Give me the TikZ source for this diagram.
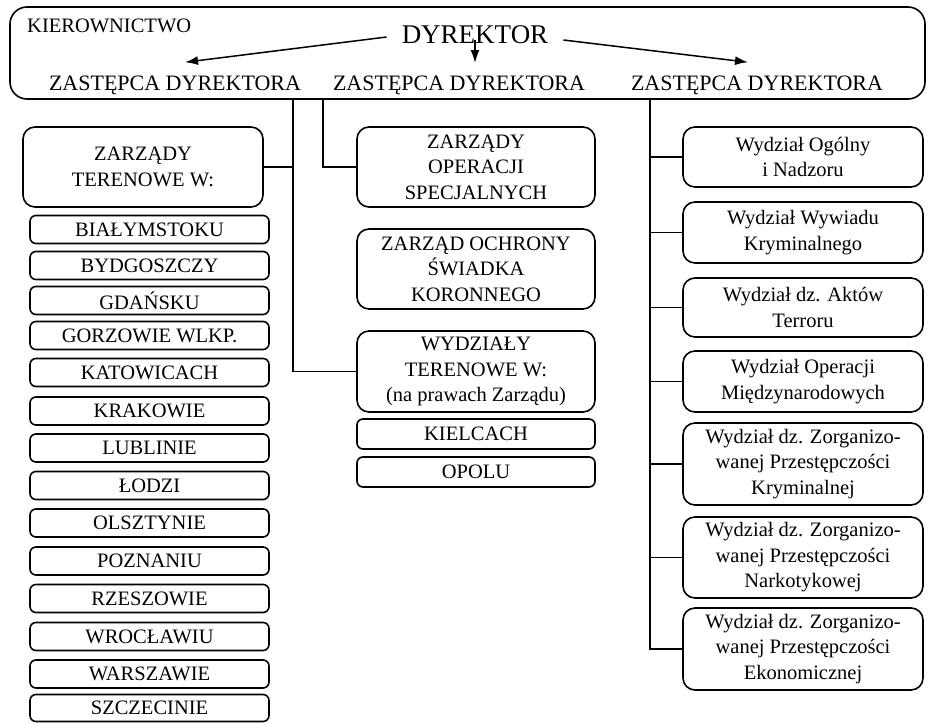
\documentclass[tikz,border=0pt]{standalone}
\usepackage{fontspec}
\setmainfont{Liberation Serif}
\usetikzlibrary{arrows.meta}

\begin{document}
\begin{tikzpicture}[x=1pt,y=-1pt,
  every node/.style={font=\fontsize{20.5}{25.5}\selectfont, align=center, inner sep=0pt},
  box/.style={draw, line width=1.6pt, rounded corners=12pt, minimum width=240pt},
  city/.style={draw, line width=1.6pt, rounded corners=6pt, minimum width=239pt, minimum height=28pt},
  conn/.style={line width=1.4pt},
  arr/.style={line width=1.5pt, -{Latex[length=13pt,width=9pt]}}]
\useasboundingbox (0,0) rectangle (928,723);
\node[draw, line width=1.6pt, rounded corners=17pt, minimum width=915pt, minimum height=92pt] (kier) at (467.5,53) {};
\node[anchor=base west] (kiert) at (27,32) {KIEROWNICTWO};
\node[font=\fontsize{27}{30}\selectfont] (dyr) at (475,35) {DYREKTOR};
\node[font=\fontsize{22}{26}\selectfont, anchor=base] (z1) at (175,90) {ZASTĘPCA DYREKTORA};
\node[font=\fontsize{22}{26}\selectfont, anchor=base] (z2) at (459,90) {ZASTĘPCA DYREKTORA};
\node[font=\fontsize{22}{26}\selectfont, anchor=base] (z3) at (757,90) {ZASTĘPCA DYREKTORA};
\draw[arr] ([xshift=-15pt,yshift=-2pt]dyr.west) -- ([xshift=10pt,yshift=13pt]z1.north);
\draw[arr] ([yshift=-5pt]dyr.center) -- ++(0,23);
\draw[arr] ([xshift=15pt,yshift=-5pt]dyr.east) -- ([xshift=-9pt,yshift=13pt]z3.north);

\node[box, minimum height=80pt] (ztw) at (143,167) {ZARZĄDY\\TERENOWE W:};
\node[city] (bia) at (149.5,229.5) {BIAŁYMSTOKU};
\node[city] (byd) at (149.5,265.5) {BYDGOSZCZY};
\node[city] (gda) at (149.5,300.5) {GDAŃSKU};
\node[city] (gor) at (149.5,335.5) {GORZOWIE WLKP.};
\node[city] (kat) at (149.5,372.5) {KATOWICACH};
\node[city] (kra) at (149.5,411) {KRAKOWIE};
\node[city] (lub) at (149.5,448) {LUBLINIE};
\node[city] (lod) at (149.5,485.5) {ŁODZI};
\node[city] (ols) at (149.5,523) {OLSZTYNIE};
\node[city] (poz) at (149.5,561) {POZNANIU};
\node[city] (rze) at (149.5,598.5) {RZESZOWIE};
\node[city] (wro) at (149.5,636.5) {WROCŁAWIU};
\node[city] (war) at (149.5,674) {WARSZAWIE};
\node[city, minimum height=27pt] (szc) at (149.5,708) {SZCZECINIE};

\node[box, minimum width=238pt, minimum height=80pt] (zos) at (476,167) {ZARZĄDY\\OPERACJI\\SPECJALNYCH};
\node[box, minimum width=238pt, minimum height=80pt] (zoc) at (476,269) {ZARZĄD OCHRONY\\ŚWIADKA\\KORONNEGO};
\node[box, minimum width=238pt, minimum height=81pt] (wtw) at (476,371.5) {WYDZIAŁY\\TERENOWE W:\\(na prawach Zarządu)};
\node[city, minimum width=238pt, minimum height=30pt] (kie) at (476,434) {KIELCACH};
\node[city, minimum width=238pt, minimum height=30pt] (opo) at (476,472) {OPOLU};

\node[box, minimum height=60pt] (w1) at (803,157) {Wydział Ogólny\\i Nadzoru};
\node[box, minimum height=61pt] (w2) at (803,232.5) {Wydział Wywiadu\\Kryminalnego};
\node[box, minimum height=59pt] (w3) at (803,307.5) {Wydział dz. Aktów\\Terroru};
\node[box, minimum height=61pt] (w4) at (803,381.5) {Wydział Operacji\\Międzynarodowych};
\node[box, minimum height=82pt] (w5) at (803,464) {Wydział dz. Zorganizo-\\wanej Przestępczości\\Kryminalnej};
\node[box, minimum height=81pt] (w6) at (803,557.5) {Wydział dz. Zorganizo-\\wanej Przestępczości\\Narkotykowej};
\node[box, minimum height=82pt] (w7) at (803,649) {Wydział dz. Zorganizo-\\wanej Przestępczości\\Ekonomicznej};

\coordinate (lt) at (293,0);
\coordinate (mt) at (323,0);
\coordinate (rt) at (650,0);
\draw[conn] (kier.south -| lt) -- (lt |- wtw.west) -- (wtw.west);
\draw[conn] (ztw.east) -- (ztw.east -| lt);
\draw[conn] (kier.south -| mt) -- (mt |- zos.west) -- (zos.west);
\draw[conn] (kier.south -| rt) -- (rt |- w7.west) -- (w7.west);
\draw[conn] (rt |- w1.west) -- (w1.west);
\draw[conn] (rt |- w2.west) -- (w2.west);
\draw[conn] (rt |- w3.west) -- (w3.west);
\draw[conn] (rt |- w4.west) -- (w4.west);
\draw[conn] (rt |- w5.west) -- (w5.west);
\draw[conn] (rt |- w6.west) -- (w6.west);
\end{tikzpicture}
\end{document}
